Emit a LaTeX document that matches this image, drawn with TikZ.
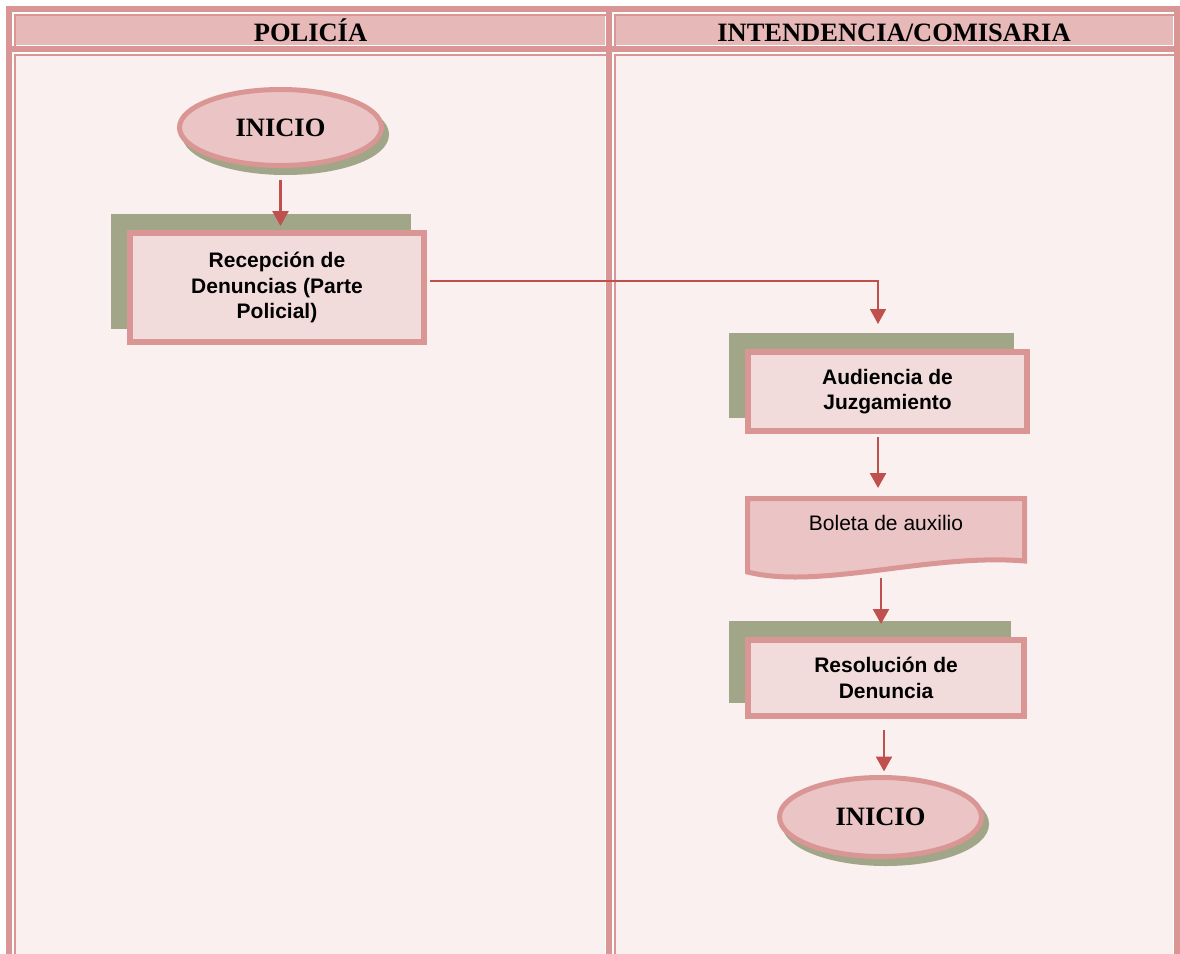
\documentclass[tikz,border=0pt]{standalone}
\usepackage{fontspec}
\setmainfont{Liberation Serif}
\newfontfamily\arialfont{Liberation Sans}
\usetikzlibrary{arrows.meta,shapes.geometric}

\definecolor{tabpink}{RGB}{217,150,148}
\definecolor{hdrfill}{RGB}{230,184,183}
\definecolor{cellfill}{RGB}{249,240,239}
\definecolor{boxfill}{RGB}{242,220,219}
\definecolor{shadegreen}{RGB}{161,166,137}
\definecolor{ovalfill}{RGB}{235,196,197}
\definecolor{arrowred}{RGB}{192,80,77}

% one table cell: white outline, thin pink rule, white inner rule, fill
\newcommand\tablecell[5]{%
  \fill[white] (#1,#2) rectangle (#3,#4);
  \fill[tabpink] ({#1+2},{#2+2}) rectangle (#3,#4);
  \fill[white] ({#1+4},{#2+4}) rectangle (#3,#4);
  \fill[#5] ({#1+4},{#2+4}) rectangle ({#3-1},{#4-1});
}

\begin{document}
\begin{tikzpicture}[x=1pt,y=-1pt,
  hdr/.style={font=\fontsize{26.5}{30}\selectfont\bfseries, inner sep=0pt, anchor=base},
  procbox/.style={rectangle, draw=tabpink, line width=6pt, fill=boxfill, inner sep=0pt,
    align=center, font=\arialfont\bfseries\fontsize{21}{25.5}\selectfont,
    preaction={draw=shadegreen, fill=shadegreen, line width=6pt,
      transform canvas={xshift=-16pt,yshift=16.5pt}}},
  terminal/.style={ellipse, draw=tabpink, line width=5pt, fill=ovalfill, inner sep=0pt,
    font=\fontsize{26.5}{30}\selectfont\bfseries,
    preaction={draw=shadegreen, fill=shadegreen, line width=5pt,
      transform canvas={xshift=5pt,yshift=-7pt}}},
  docshape/.style={draw=tabpink, line width=5pt, fill=ovalfill},
  doclabel/.style={inner sep=0pt, font=\arialfont\fontsize{21}{25.5}\selectfont},
  flow/.style={draw=arrowred, line width=2.5pt, -{Triangle[width=16pt,length=15pt]}},
  link/.style={flow, line width=1.6pt}
]
\path[use as bounding box] (0,0) rectangle (1180,953);
\clip (0,0) rectangle (1180,953);

% table frame and cells
\fill[white] (0,0) rectangle (1180,953);
\fill[tabpink] (6,6) rectangle (1190,970);
\tablecell{12}{12}{606}{46}{hdrfill}
\tablecell{612}{12}{1174}{46}{hdrfill}
\tablecell{12}{52}{606}{970}{cellfill}
\tablecell{612}{52}{1174}{970}{cellfill}

% lane headers
\node[hdr] (hpol) at (310.5,41.5) {POLICÍA};
\node[hdr] (hint) at (894,41.5) {INTENDENCIA/COMISARIA};

% flow nodes
\node[terminal, minimum width=202pt, minimum height=76pt] (ini1) at (280.5,127.5) {INICIO};
\node[procbox, minimum width=294pt, minimum height=109pt] (rec) at (277,287.5)
  {Recepción de\\Denuncias (Parte\\Policial)};
\node[procbox, minimum width=279pt, minimum height=79pt] (aud) at (887.5,391.5)
  {Audiencia de\\Juzgamiento};

% document shape with wavy bottom edge
\draw[docshape] (747.5,498.5) -- (1024.5,498.5) -- (1024.5,561)
  .. controls (930,553) and (820,590) .. (747.5,572) -- cycle;
\node[doclabel, minimum width=277pt, text height=32pt, text depth=41.5pt, anchor=north]
  (bol) at (886,498.5) {Boleta de auxilio};

\node[procbox, minimum width=276pt, minimum height=76pt] (res) at (886,678)
  {Resolución de\\Denuncia};
\node[terminal, minimum width=202pt, minimum height=79pt] (ini2) at (880.5,817) {INICIO};

% connectors
\draw[flow, shorten <=11.5pt, shorten >=4pt] (ini1.south) -- (ini1.south |- rec.north);
\draw[link, shorten <=3pt, shorten >=25pt] ([yshift=6.5pt]rec.east) -| ([xshift=-9.5pt]aud.north);
\draw[flow, shorten <=3pt, shorten >=10.5pt] ([xshift=-9.5pt]aud.south) -- ([xshift=-9.5pt]aud.south |- bol.north);
\draw[flow, shorten <=6pt, shorten >=13pt] ([xshift=-5pt]bol.south) -- ([xshift=-5pt]bol.south |- res.north);
\draw[flow, shorten <=11pt, shorten >=3.5pt] ([xshift=-2pt]res.south) -- ([xshift=-2pt]res.south |- ini2.north);
\end{tikzpicture}
\end{document}
